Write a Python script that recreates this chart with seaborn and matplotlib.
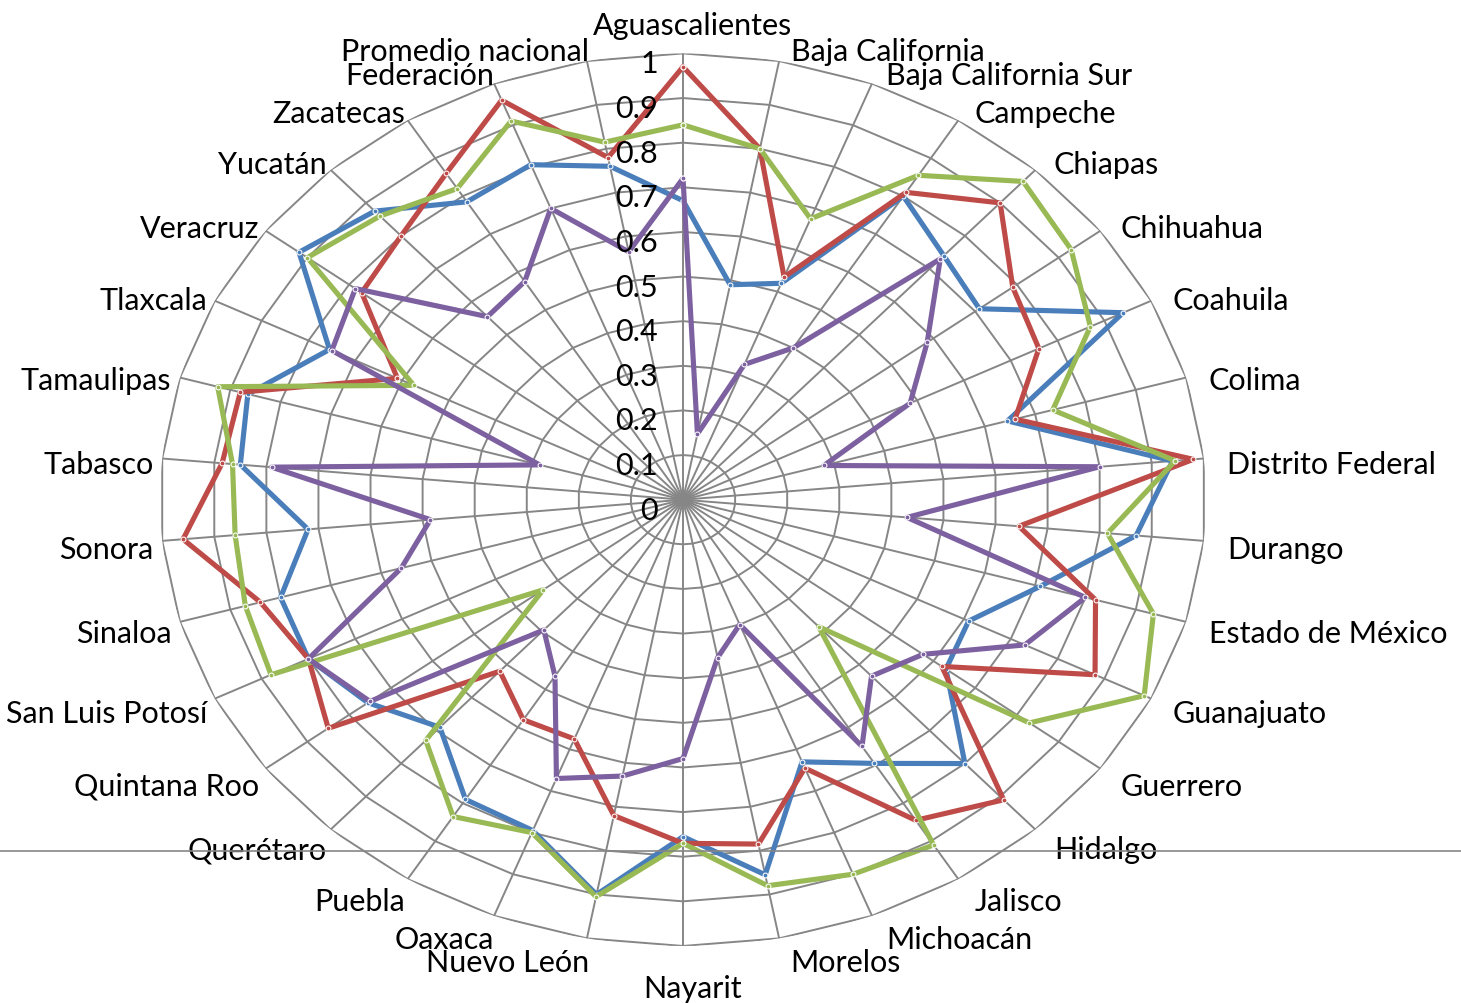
import numpy as np
import pandas as pd
import matplotlib
matplotlib.use("Agg")
import matplotlib.pyplot as plt
from matplotlib.lines import Line2D
import seaborn as sns

estados = ["Aguascalientes", "Baja California", "Baja California Sur", "Campeche",
           "Chiapas", "Chihuahua", "Coahuila", "Colima", "Distrito Federal", "Durango",
           "Estado de México", "Guanajuato", "Guerrero", "Hidalgo", "Jalisco",
           "Michoacán", "Morelos", "Nayarit", "Nuevo León", "Oaxaca", "Puebla",
           "Querétaro", "Quintana Roo", "San Luis Potosí", "Sinaloa", "Sonora",
           "Tabasco", "Tamaulipas", "Tlaxcala", "Veracruz", "Yucatán", "Zacatecas",
           "Federación", "Promedio nacional"]

serie_azul = [0.67, 0.49, 0.52, 0.80, 0.74, 0.71, 0.94, 0.645, 0.94, 0.87,
              0.71, 0.61, 0.63, 0.80, 0.695, 0.63, 0.855, 0.755, 0.90, 0.795,
              0.79, 0.69, 0.755, 0.80, 0.80, 0.72, 0.85, 0.865, 0.755, 0.92,
              0.875, 0.785, 0.805, 0.76]
serie_roja = [0.97, 0.80, 0.535, 0.81, 0.90, 0.79, 0.76, 0.66, 0.98, 0.645,
              0.82, 0.88, 0.62, 0.91, 0.845, 0.645, 0.785, 0.77, 0.72, 0.575,
              0.58, 0.52, 0.85, 0.80, 0.84, 0.96, 0.885, 0.88, 0.61, 0.77,
              0.80, 0.86, 0.96, 0.78]
serie_verde = [0.84, 0.80, 0.675, 0.855, 0.965, 0.93, 0.87, 0.735, 0.945, 0.815,
               0.935, 0.985, 0.83, 0.385, 0.91, 0.90, 0.88, 0.77, 0.905, 0.80,
               0.835, 0.73, 0.335, 0.88, 0.87, 0.86, 0.865, 0.925, 0.575, 0.90,
               0.86, 0.82, 0.91, 0.815]
serie_morada = [0.72, 0.15, 0.325, 0.40, 0.73, 0.585, 0.485, 0.28, 0.80, 0.43,
                0.80, 0.73, 0.575, 0.535, 0.65, 0.30, 0.36, 0.58, 0.63, 0.67,
                0.465, 0.395, 0.75, 0.80, 0.56, 0.485, 0.79, 0.285, 0.75, 0.785,
                0.555, 0.575, 0.70, 0.565]

niveles = [0.1, 0.2, 0.3, 0.4, 0.5, 0.6, 0.7, 0.8, 0.9, 1.0]
etiquetas_eje = ["0", "0.1", "0.2", "0.3", "0.4", "0.5", "0.6", "0.7", "0.8", "0.9", "1"]

series = {"Serie 1": serie_azul, "Serie 2": serie_roja,
          "Serie 3": serie_verde, "Serie 4": serie_morada}
colores = ["#4A7EBB", "#BE4B48", "#98B954", "#7D60A0"]

n = len(estados)
theta = np.arange(n) * 2 * np.pi / n
t_cerrado = np.append(theta, 2 * np.pi)

# tabla larga, cada poligono se cierra repitiendo el primer valor en 2*pi
filas = []
for nombre, valores in series.items():
    for t, v in zip(t_cerrado, list(valores) + [valores[0]]):
        filas.append({"serie": nombre, "theta": t, "valor": v})
df = pd.DataFrame(filas)

sns.set_style("white")
plt.rcParams["font.family"] = ["Lato", "DejaVu Sans"]

fig = plt.figure(figsize=(14.61, 10.04), dpi=100)
ax = fig.add_axes([0.1095, 0.0568, 0.716, 0.889], projection="polar")
ax.set_aspect("auto")
ax.set_theta_zero_location("N")
ax.set_theta_direction(-1)
ax.set_ylim(0, 1)
ax.set_axis_off()

gris = "#868686"
for r in niveles:
    ax.plot(t_cerrado, [r] * (n + 1), color=gris, lw=1.4, zorder=1)
for t in theta:
    ax.plot([t, t], [0, 1], color=gris, lw=1.4, zorder=1)

sns.lineplot(data=df, x="theta", y="valor", hue="serie", palette=colores,
             sort=False, estimator=None, ax=ax, linewidth=3.7, legend=False,
             marker="o", markersize=3.5, zorder=3)

fs = 22
# etiquetas del eje de valores
for i, lab in enumerate(etiquetas_eje):
    ax.annotate(lab, xy=(0, i / 10), xytext=(-25, -10), textcoords="offset pixels",
                ha="right", va="center", fontsize=fs, color="black")

# etiquetas de categorias
for t, nombre in zip(theta, estados):
    s, c = np.sin(t), np.cos(t)
    if abs(s) < 1e-6:
        ha = "center"
        dx = 10
        dy = -7 + 35 * c
    else:
        ha = "left" if s > 0 else "right"
        dx = 7 + np.sign(s) * (14 * abs(s) + 2)
        dy = -7 + 17 * c
    ax.annotate(nombre, xy=(t, 1), xytext=(dx, dy), textcoords="offset pixels",
                ha=ha, va="center", fontsize=fs, color="black",
                annotation_clip=False)

fig.add_artist(Line2D([0, 1], [0.1517, 0.1517], transform=fig.transFigure,
                      color=gris, lw=1.2, zorder=5))

fig.savefig("out.png", dpi=100, facecolor="white")
